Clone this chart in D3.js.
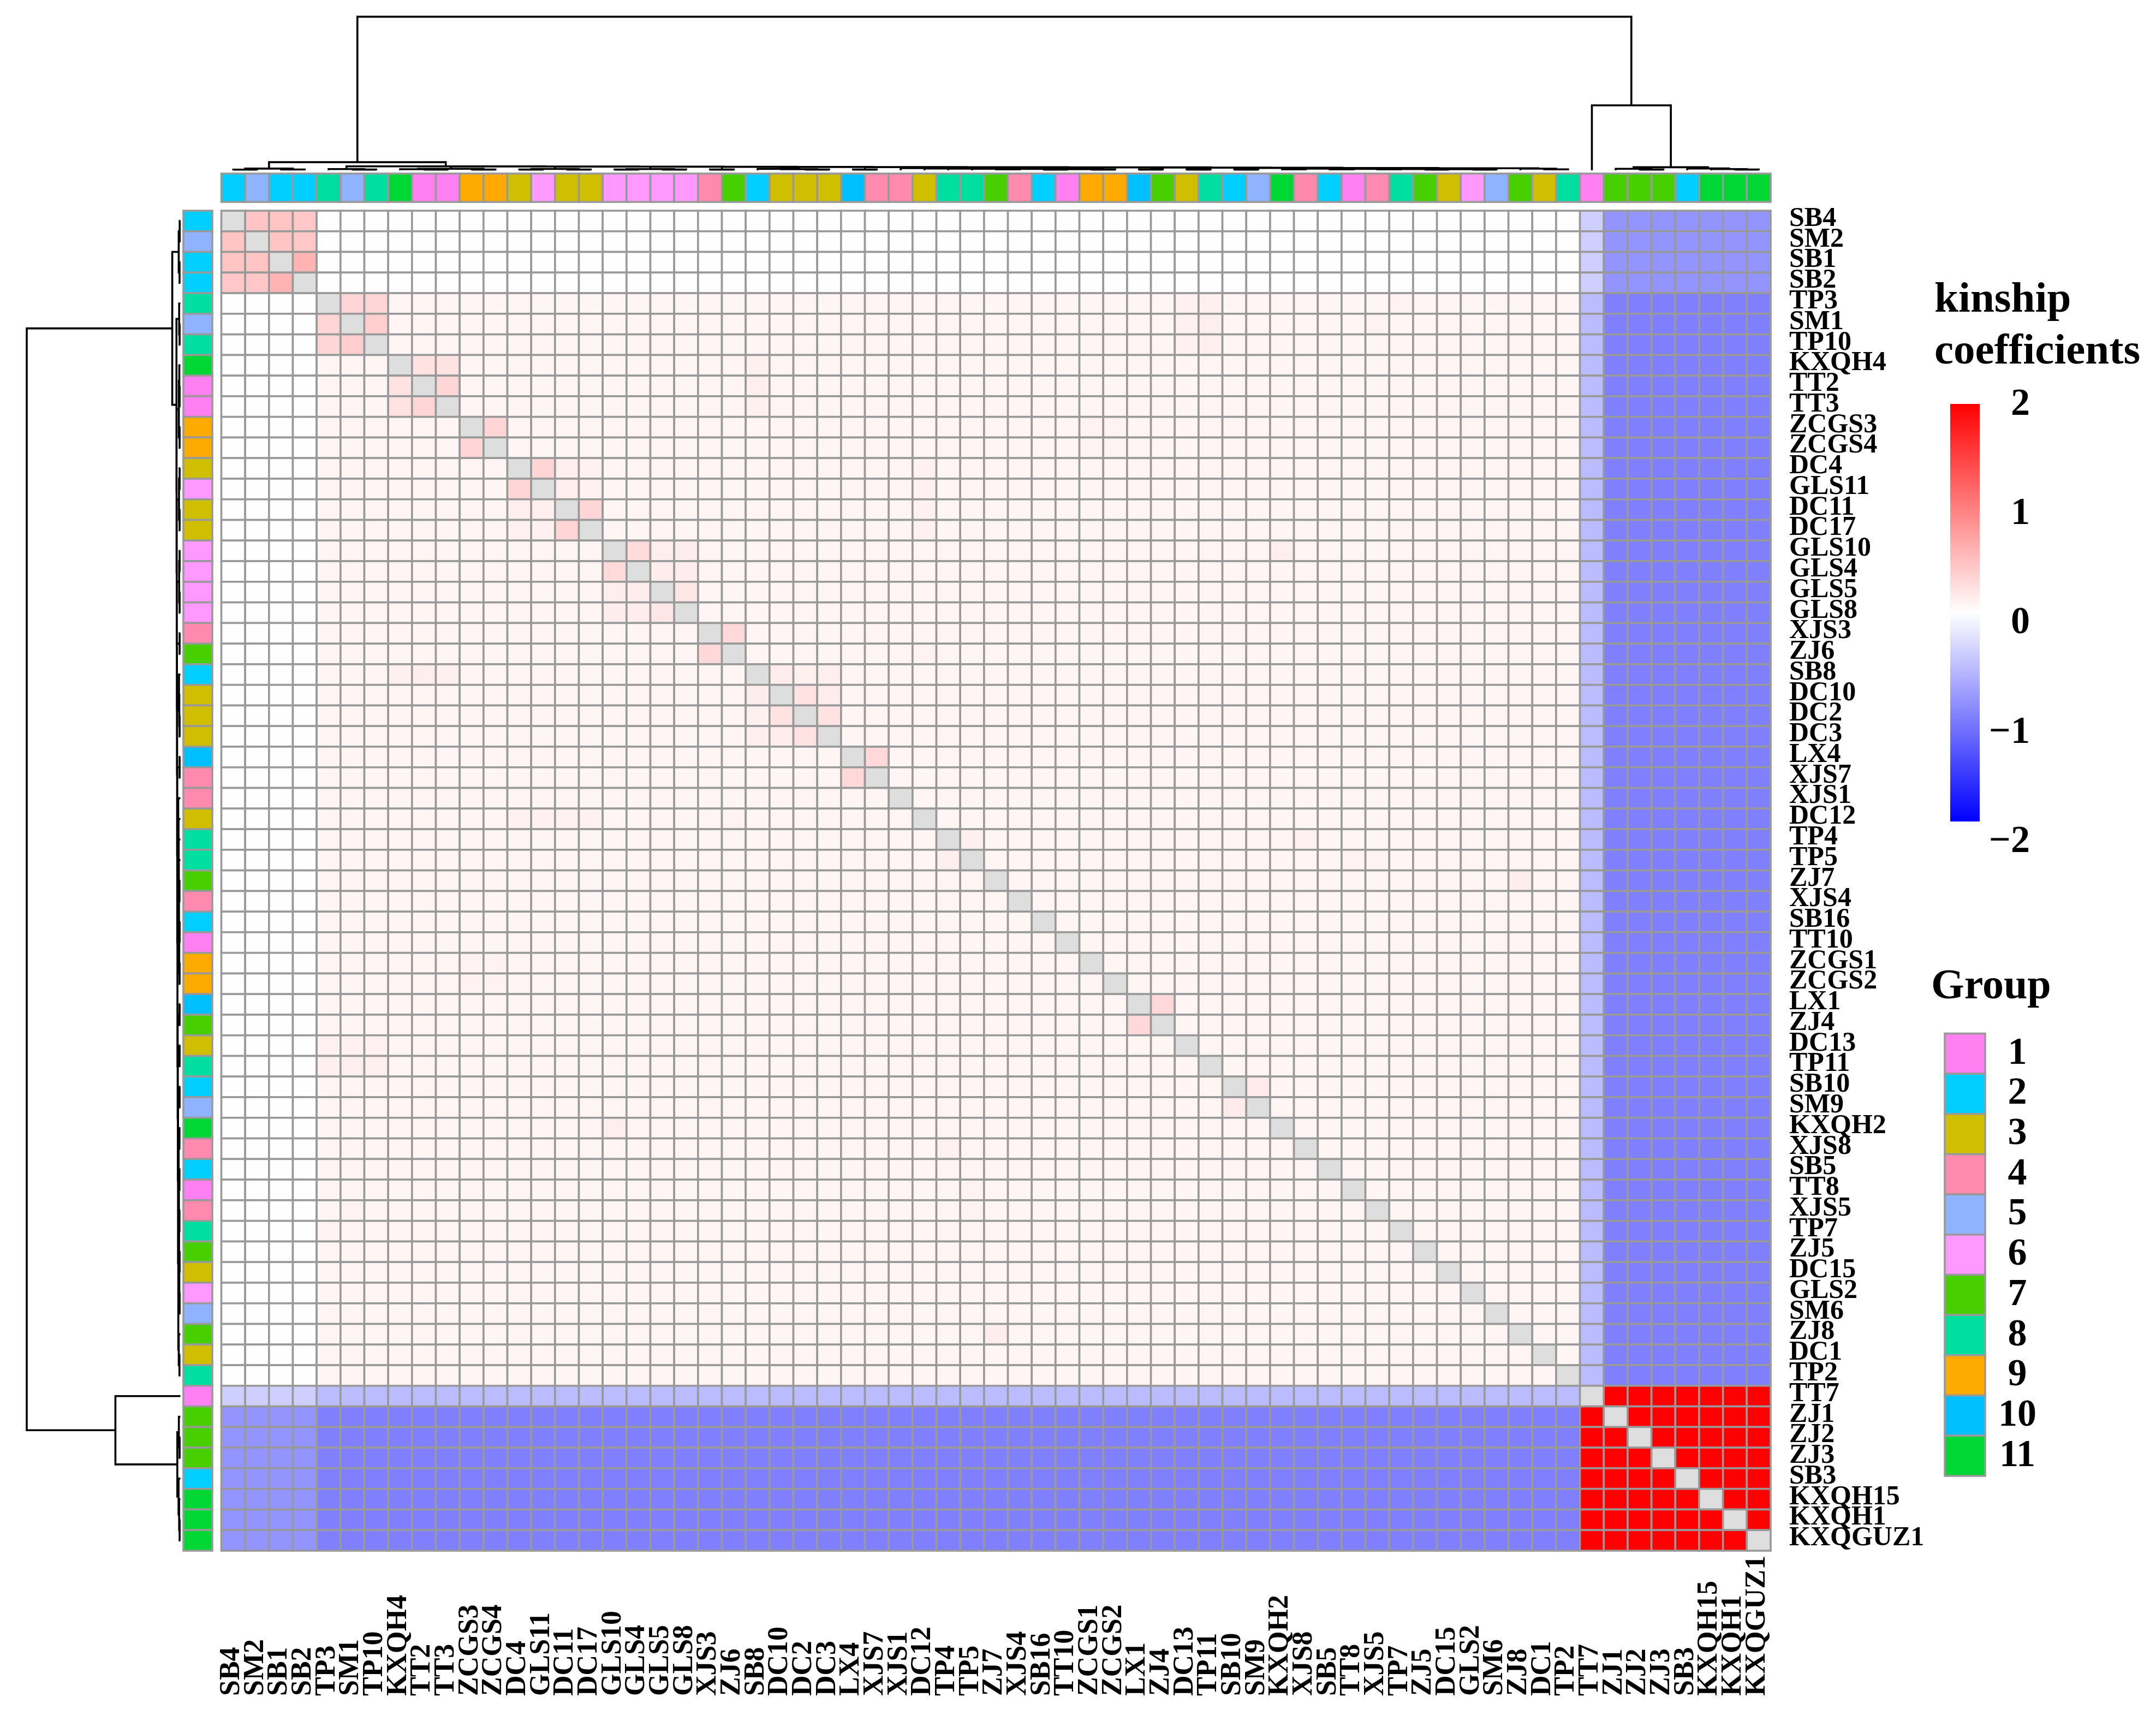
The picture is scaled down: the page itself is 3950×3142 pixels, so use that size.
<!DOCTYPE html>
<html><head><meta charset="utf-8">
<script src="https://cdn.jsdelivr.net/npm/d3@7"></script>
<style>html,body{margin:0;padding:0;background:#fff}svg{display:block}text{font-family:"Liberation Serif",serif;font-weight:bold;fill:#000}</style>
</head><body><svg id="c" width="3950" height="3142"></svg>
<script>
const samples = ["SB4","SM2","SB1","SB2","TP3","SM1","TP10","KXQH4","TT2","TT3","ZCGS3","ZCGS4","DC4","GLS11","DC11","DC17","GLS10","GLS4","GLS5","GLS8","XJS3","ZJ6","SB8","DC10","DC2","DC3","LX4","XJS7","XJS1","DC12","TP4","TP5","ZJ7","XJS4","SB16","TT10","ZCGS1","ZCGS2","LX1","ZJ4","DC13","TP11","SB10","SM9","KXQH2","XJS8","SB5","TT8","XJS5","TP7","ZJ5","DC15","GLS2","SM6","ZJ8","DC1","TP2","TT7","ZJ1","ZJ2","ZJ3","SB3","KXQH15","KXQH1","KXQGUZ1"];
const sampleGroups = [2,5,2,2,8,5,8,11,1,1,9,9,3,6,3,3,6,6,6,6,4,7,2,3,3,3,10,4,4,3,8,8,7,4,2,1,9,9,10,7,3,8,2,5,11,4,2,1,4,8,7,3,6,5,7,3,8,1,7,7,7,2,11,11,11];
const groupLabels = [1,2,3,4,5,6,7,8,9,10,11];
const groupColors = ["#FF80F0","#00CFFF","#CFBF00","#FF8AB0","#8FB3FF","#FF99FF","#47CF00","#00DFA0","#FFAA00","#00BFFF","#00D735"];
const scaleTicks = [-2,-1,0,1,2];
// zones: first index of each block of samples
const zoneStarts = [0,4,57,58];
const zoneValues = [
  [0.01, 0.01,-0.38,-0.84],
  [0.01, 0.075,-0.53,-1.0],
  [-0.38,-0.53, 0, 2],
  [-0.84,-1.0, 2, 2]
];
const cellReadings = [
 ["SB4","SM2",.46],["SB4","SB1",.46],["SB4","SB2",.44],["SM2","SB1",.46],["SM2","SB2",.44],["SB1","SB2",.6],
 ["TP3","SM1",.33],["TP3","TP10",.32],["SM1","TP10",.38],
 ["KXQH4","TT2",.23],["KXQH4","TT3",.22],["TT2","TT3",.32],["ZCGS3","ZCGS4",.33],
 ["DC4","GLS11",.33],["DC4","DC11",.13],["DC4","DC17",.11],["GLS11","DC11",.13],["GLS11","DC17",.11],["DC11","DC17",.33],
 ["GLS10","GLS4",.28],["GLS10","GLS5",.13],["GLS10","GLS8",.14],["GLS4","GLS5",.14],["GLS4","GLS8",.15],["GLS5","GLS8",.2],
 ["XJS3","ZJ6",.3],
 ["SB8","DC10",.14],["SB8","DC2",.12],["SB8","DC3",.13],["DC10","DC2",.22],["DC10","DC3",.15],["DC2","DC3",.22],
 ["LX4","XJS7",.3],["LX1","ZJ4",.3],["SB10","SM9",.16],["TP4","TP5",.12],
 ["TP3","DC13",.11],["TP3","TP11",.12],["SM1","DC13",.11],["SM1","TP11",.13],["TP10","DC13",.11],["TP10","TP11",.12],
 ["KXQH4","SB8",.12],["TT2","SB8",.13],["TT3","SB8",.12],
 ["GLS10","KXQH2",.13],["ZJ7","ZJ8",.14],["TP4","XJS8",.11],["TP5","TT8",.1],["TP5","XJS5",.1],
 ["DC12","DC4",.11],["DC12","GLS11",.11],["DC12","DC11",.11],["DC12","DC17",.11],
 ["ZCGS3","ZCGS1",.1],["ZCGS4","ZCGS1",.1],["ZCGS3","ZCGS2",.1],["ZCGS4","ZCGS2",.1],
 ["ZJ6","DC12",.1],["TP3","TP7",.1],["SM1","XJS5",.1]
];
// dendrogram as nested [height, left, right]; root height 100
const tree = [100,
 [5.3,
  [1.1,[.45,"SB4","SM2"],[.55,"SB1","SB2"]],
  [2.56,
   [.8,"TP3",[.5,"SM1","TP10"]],
   [2.49,
    [1.0,[.7,"KXQH4",[.5,"TT2","TT3"]],[.5,"ZCGS3","ZCGS4"]],
    [2.38,
     [.9,[.5,"DC4","GLS11"],[.5,"DC11","DC17"]],
     [2.31,
      [.8,[.5,"GLS10","GLS4"],[.5,"GLS5","GLS8"]],
      [2.24,
       [.5,"XJS3","ZJ6"],
       [2.13,
        [.9,"SB8",[.7,"DC10",[.5,"DC2","DC3"]]],
        [2.03,
         [.5,"LX4","XJS7"],
         [1.92,
          [1.4,"XJS1",[1.2,"DC12",[1.1,"TP4",[1.0,"TP5",[.9,[.6,"ZJ7","XJS4"],[.75,[.5,"SB16","TT10"],[.5,"ZCGS1","ZCGS2"]]]]]]],
          [1.78,
           [.5,"LX1","ZJ4"],
           [1.67,
            [.5,"DC13","TP11"],
            [1.53,
             [.5,"SB10","SM9"],
             [1.35,
              [1.1,[.6,"KXQH2","XJS8"],[.95,[.6,"SB5","TT8"],[.85,[.6,"XJS5","TP7"],[.7,[.5,"ZJ5","DC15"],[.5,"GLS2","SM6"]]]]],
              [1.07,"ZJ8",[.6,"DC1","TP2"]]
             ]]]]]]]]]]]]],
 [42.3,
  "TT7",
  [2.0,
   [1.0,"ZJ1",[.5,"ZJ2","ZJ3"]],
   [1.2,"SB3",[.8,"KXQH15",[.5,"KXQH1","KXQGUZ1"]]]
  ]]
];

const svg = d3.select("#c");
svg.append("rect").attr("width",3950).attr("height",3142).attr("fill","#fff");
const GRID="#999999", SW=3.6;
const x = d3.scaleBand().domain(samples).range([405.5,3244]);
const y = d3.scaleBand().domain(samples).range([386,2841]);
const color = d3.scaleLinear().domain([-2,0,2]).range(["#0000ff","#ffffff","#ff0000"]);
const groupColor = d3.scaleOrdinal().domain(groupLabels).range(groupColors);

const zone = i => d3.bisectRight(zoneStarts,i)-1;
const readMap = new Map();
cellReadings.forEach(([a,b,v])=>{readMap.set(a+"|"+b,v);readMap.set(b+"|"+a,v);});
const cells = [];
samples.forEach((r,i)=>samples.forEach((c,j)=>{
  cells.push({r,c,v:i===j?null:(readMap.has(r+"|"+c)?readMap.get(r+"|"+c):zoneValues[zone(i)][zone(j)])});
}));
svg.append("g").selectAll("rect").data(cells).join("rect")
 .attr("x",d=>x(d.c)).attr("y",d=>y(d.r)).attr("width",x.bandwidth()).attr("height",y.bandwidth())
 .attr("fill",d=>d.v===null?"#DEDEDE":color(d.v)).attr("stroke",GRID).attr("stroke-width",SW);

// annotations
const topY=d3.scaleBand().domain(["Group"]).range([318,370]);
const leftX=d3.scaleBand().domain(["Group"]).range([336,389]);
const annot=samples.map((s,i)=>({s,g:sampleGroups[i]}));
svg.append("g").selectAll("rect").data(annot).join("rect")
 .attr("x",d=>x(d.s)).attr("y",topY("Group")).attr("width",x.bandwidth()).attr("height",topY.bandwidth())
 .attr("fill",d=>groupColor(d.g)).attr("stroke",GRID).attr("stroke-width",SW);
svg.append("g").selectAll("rect").data(annot).join("rect")
 .attr("x",leftX("Group")).attr("y",d=>y(d.s)).attr("width",leftX.bandwidth()).attr("height",y.bandwidth())
 .attr("fill",d=>groupColor(d.g)).attr("stroke",GRID).attr("stroke-width",SW);

// dendrograms
const root=d3.hierarchy(tree,d=>Array.isArray(d)?d.slice(1):null);
function dendro(pos,hScale,horizontal){
  const p=d3.path();
  const pt=(a,h)=>horizontal?[a,hScale(h)]:[hScale(h),a];
  root.eachAfter(n=>{
    if(!n.children){n.pos=pos(n.data)+pos.bandwidth()/2;n.h=0;return;}
    n.h=n.data[0];
    n.pos=(n.children[0].pos+n.children[1].pos)/2;
    const [a,b]=n.children;
    p.moveTo(...pt(a.pos,a.h));p.lineTo(...pt(a.pos,n.h));p.lineTo(...pt(b.pos,n.h));p.lineTo(...pt(b.pos,b.h));
  });
  svg.append("path").attr("d",p.toString()).attr("fill","none").attr("stroke","#000").attr("stroke-width",3.6).attr("stroke-linejoin","miter");
}
dendro(x,d3.scaleLinear().domain([0,100]).range([312,30.6]),true);
dendro(y,d3.scaleLinear().domain([0,100]).range([330.5,49]),false);

// sample labels
const ra=svg.append("g").attr("transform","translate(3278,-7)").call(d3.axisRight(y).tickSize(0).tickPadding(0));
ra.select(".domain").remove();
ra.selectAll("text").attr("font-size",50).attr("font-family","Liberation Serif").attr("font-weight","bold").attr("dy","0.32em");
const ba=svg.append("g").attr("transform","translate(-6,3107)").call(d3.axisBottom(x).tickSize(0).tickPadding(0));
ba.select(".domain").remove();
ba.selectAll("text").attr("font-size",52).attr("font-family","Liberation Serif").attr("font-weight","bold")
  .attr("text-anchor","start").attr("y",0).attr("dy","0.32em").attr("x",0).attr("transform","rotate(-90)");

// colour key
svg.append("text").attr("x",3544).attr("y",571).attr("font-size",79).text("kinship");
svg.append("text").attr("x",3544).attr("y",666).attr("font-size",79).text("coefficients");
const grad=svg.append("defs").append("linearGradient").attr("id","kg").attr("x1",0).attr("x2",0).attr("y1",0).attr("y2",1);
grad.selectAll("stop").data(color.domain().slice().reverse()).join("stop")
 .attr("offset",(d,i)=>i/2).attr("stop-color",d=>color(d));
svg.append("rect").attr("x",3573).attr("y",740).attr("width",54).attr("height",765).attr("fill","url(#kg)");
const keyY=d3.scaleLinear().domain([-2,2]).range([1541,740]);
const ka=svg.append("g").attr("transform","translate(3719,-3)").call(d3.axisRight(keyY).tickValues(scaleTicks).tickSize(0).tickPadding(0).tickFormat(d3.format("d")));
ka.select(".domain").remove();
ka.selectAll("text").attr("font-size",70).attr("font-family","Liberation Serif").attr("font-weight","bold").attr("text-anchor","end").attr("x",0).attr("dy","0.32em");

// group key
svg.append("text").attr("x",3538).attr("y",1829).attr("font-size",78).text("Group");
const gy=d3.scaleBand().domain(groupLabels).range([1893.5,2704]);
svg.append("g").selectAll("rect").data(groupLabels).join("rect")
 .attr("x",3563).attr("y",d=>gy(d)).attr("width",74).attr("height",gy.bandwidth())
 .attr("fill",d=>groupColor(d)).attr("stroke",GRID).attr("stroke-width",SW);
const ga=svg.append("g").attr("transform","translate(3696,-4)").call(d3.axisRight(gy).tickSize(0).tickPadding(0));
ga.select(".domain").remove();
ga.selectAll("text").attr("font-size",70).attr("font-family","Liberation Serif").attr("font-weight","bold").attr("text-anchor","middle").attr("x",0).attr("dy","0.32em");
</script></body></html>
